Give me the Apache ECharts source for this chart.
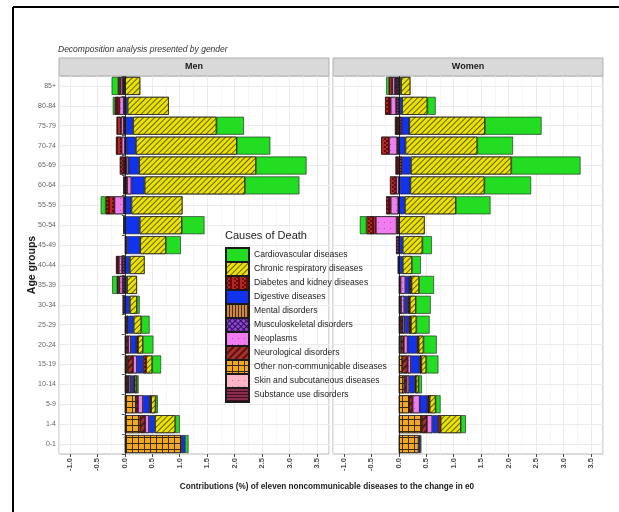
<!DOCTYPE html>
<html lang="en">
<head>
    <meta charset="UTF-8">
    <title>Decomposition analysis</title>
    <script src="https://cdn.jsdelivr.net/npm/echarts@6/dist/echarts.min.js"></script>
    <style>
        html, body { margin: 0; padding: 0; background: #fff; }
        #main { width: 619px; height: 512px; }
    </style>
</head>
<body>
<div id="main"></div>
<script>
// age groups, bottom to top
var ages = ['0-1', '1-4', '5-9', '10-14', '15-19', '20-24', '25-29', '30-34', '35-39', '40-44',
    '45-49', '50-54', '55-59', '60-64', '65-69', '70-74', '75-79', '80-84', '85+'];

var causes = ['Cardiovascular diseases', 'Chronic respiratory diseases', 'Diabetes and kidney diseases',
    'Digestive diseases', 'Mental disorders', 'Musculoskeletal disorders', 'Neoplasms',
    'Neurological disorders', 'Other non-communicable diseases', 'Skin and subcutaneous diseases',
    'Substance use disorders'];

// Men (values in same order as ages)
var menCardio    = [0.06, 0.08, 0.04, 0.03, 0.16, 0.19, 0.15, 0.05, -0.09, 0, 0.27, 0.41, -0.09, 0.99, 0.92, 0.61, 0.50, -0.04, -0.12];
var menChronic   = [0, 0.37, 0.08, 0.04, 0.11, 0.09, 0.14, 0.13, 0.18, 0.27, 0.47, 0.77, 0.93, 1.83, 2.13, 1.84, 1.52, 0.75, 0.28];
var menDiabetes  = [0, 0, 0.03, 0.02, 0.06, 0.03, 0, 0, -0.04, -0.05, 0, 0, -0.16, -0.03, -0.07, -0.10, -0.08, -0.08, -0.04];
var menDigestive = [0.07, 0.11, 0.12, 0.05, 0.11, 0.10, 0.10, 0.09, 0.04, 0.09, 0.24, 0.27, 0.12, 0.24, 0.19, 0.17, 0.13, 0.05, 0];
var menMental    = [0, 0, 0, 0, 0, 0, 0, 0, 0, 0, 0, 0, 0, 0, 0, 0, 0, 0, 0];
var menMusculo   = [0, 0, 0, 0, 0, 0, 0, 0, 0, 0, 0, 0, 0, 0, 0, 0, 0, 0, 0];
var menNeoplasms = [0, 0.07, 0.09, 0.04, 0.07, 0.05, 0, 0, -0.06, -0.06, 0, 0, -0.17, 0.08, 0.04, -0.06, -0.05, -0.08, -0.04];
var menNeuro     = [0, 0.09, 0.04, 0.03, 0.10, 0.04, 0.03, 0, 0, 0, 0, 0, 0, 0, -0.02, 0, -0.02, 0, -0.02];
var menOther     = [1.03, 0.28, 0.20, 0.04, 0.05, 0, 0, 0, 0, 0, 0, 0, 0, 0, 0, 0, 0, 0, 0];
var menSkin      = [0, 0, 0, 0, 0, 0, 0, 0, 0, 0, 0, 0, 0, 0, 0, 0, 0, 0, 0];
var menSubstance = [0, 0, 0, 0, 0, 0.02, 0.03, -0.04, -0.04, -0.05, 0.04, -0.03, -0.02, 0.04, 0.03, 0.03, 0.02, -0.02, -0.02];

// Women
var womenCardio    = [0.02, 0.09, 0.09, 0.06, 0.22, 0.24, 0.24, 0.27, 0.27, 0.16, 0.17, -0.12, 0.63, 0.85, 1.26, 0.65, 1.03, 0.15, -0.05];
var womenChronic   = [0, 0.37, 0.11, 0.05, 0.09, 0.09, 0.10, 0.11, 0.14, 0.17, 0.36, 0.47, 0.93, 1.35, 1.83, 1.31, 1.38, 0.46, 0.17];
var womenDiabetes  = [0, 0.05, 0.04, 0.02, 0.03, 0.03, 0.04, 0.04, 0.04, 0, 0, -0.17, -0.08, -0.11, -0.06, -0.14, -0.04, -0.10, -0.06];
var womenDigestive = [0.03, 0.10, 0.14, 0.10, 0.16, 0.17, 0.07, 0.06, 0.07, 0.07, 0.07, 0, 0.11, 0.19, 0.16, 0.12, 0.14, 0.06, 0.04];
var womenMental    = [0, 0, 0, 0, 0, 0, 0, 0, 0, 0, 0, 0, 0, 0, 0, 0, 0, 0, 0];
var womenMusculo   = [0, 0, 0, 0, 0, 0, 0, 0, 0, 0, 0, 0, 0, 0, 0, 0, 0, 0, 0];
var womenNeoplasms = [0, 0.10, 0.13, 0.05, 0.06, 0.07, 0.04, 0.06, 0.09, 0, 0, -0.38, -0.14, -0.05, 0, -0.15, 0, -0.10, -0.05];
var womenNeuro     = [0, 0.09, 0.06, 0.04, 0.10, 0.05, 0.04, 0, 0, 0, 0, 0, 0, 0, 0, 0, -0.03, 0, -0.03];
var womenOther     = [0.36, 0.42, 0.19, 0.10, 0.06, 0.04, 0, 0, 0, 0, 0, 0, 0, 0, 0, 0, 0, 0, 0];
var womenSkin      = [0, 0, 0, 0, 0, 0, 0, 0, 0, 0, 0, 0, 0, 0, 0, 0, 0, 0, 0];
var womenSubstance = [0, 0, 0, 0, 0, 0, 0.03, 0.04, 0.03, -0.02, -0.05, -0.04, -0.01, 0.02, 0.06, -0.03, 0.05, -0.05, -0.04];

var menValues = [menCardio, menChronic, menDiabetes, menDigestive, menMental, menMusculo,
    menNeoplasms, menNeuro, menOther, menSkin, menSubstance];
var womenValues = [womenCardio, womenChronic, womenDiabetes, womenDigestive, womenMental, womenMusculo,
    womenNeoplasms, womenNeuro, womenOther, womenSkin, womenSubstance];

// fill colour + pattern for each cause
var styles = [
    {color: '#22dd22', decal: null},
    {color: '#ece200', decal: {symbol: 'rect', symbolSize: 1, dashArrayX: [1, 0], dashArrayY: [1, 2.5], rotation: -Math.PI / 4, color: 'rgba(40,40,0,0.7)'}},
    {color: '#b8261e', decal: {symbol: 'rect', symbolSize: 1, dashArrayX: [[2, 2], [0, 2, 2]], dashArrayY: [2, 0], color: 'rgba(80,5,5,0.8)'}},
    {color: '#1133ee', decal: null},
    {color: '#cc8a40', decal: {symbol: 'rect', symbolSize: 1, dashArrayX: [1, 2], dashArrayY: [1, 0], color: 'rgba(50,25,5,0.85)'}},
    {color: '#8e44d6', decal: {symbol: 'rect', symbolSize: 1, dashArrayX: [[4, 0], [1, 3], [1, 3], [1, 3]], dashArrayY: [1, 0], rotation: Math.PI / 4, color: 'rgba(30,5,60,0.85)'}},
    {color: '#f07cf0', decal: {symbol: 'circle', symbolSize: 0.8, dashArrayX: [1, 5], dashArrayY: [1, 5], color: 'rgba(60,10,60,0.9)'}},
    {color: '#a8302a', decal: {symbol: 'rect', symbolSize: 1, dashArrayX: [1, 0], dashArrayY: [2, 3], rotation: -Math.PI / 4, color: 'rgba(70,10,8,0.8)'}},
    {color: '#f2a81e', decal: {symbol: 'rect', symbolSize: 1, dashArrayX: [[6, 0], [1, 5], [1, 5], [1, 5], [1, 5], [1, 5]], dashArrayY: [1, 0], color: 'rgba(40,25,0,0.9)'}},
    {color: '#ffb3c6', decal: {symbol: 'circle', symbolSize: 0.8, dashArrayX: [1, 5], dashArrayY: [1, 5], color: 'rgba(100,30,50,0.9)'}},
    {color: '#8c2e50', decal: {symbol: 'rect', symbolSize: 1, dashArrayX: [1, 0], dashArrayY: [1, 2], color: 'rgba(50,10,25,0.85)'}}
];

var FONT = '"Liberation Sans", Arial, sans-serif';
var gridTop = 76, gridH = 378;
var panels = [{left: 59, width: 270, label: 'Men', values: menValues},
              {left: 333, width: 270, label: 'Women', values: womenValues}];

var grids = [], xAxes = [], yAxes = [], series = [], graphics = [];

panels.forEach(function (p, g) {
    grids.push({left: p.left, top: gridTop, width: p.width, height: gridH, show: true,
        backgroundColor: '#fff', borderColor: '#b5b5b5', borderWidth: 1, containLabel: false});
    xAxes.push({
        type: 'value', gridIndex: g, min: -1.2, max: 3.72, splitNumber: 10,
        axisLine: {show: false},
        axisTick: {show: true, length: 3, lineStyle: {color: '#444'}},
        axisLabel: {rotate: 90, fontSize: 7.5, fontWeight: 'bold', color: '#4d4d4d', fontFamily: FONT, margin: 4,
            showMinLabel: false, showMaxLabel: false,
            formatter: function (v) { return v.toFixed(1); }},
        splitLine: {show: true, lineStyle: {color: '#ebebeb', width: 1}},
        minorTick: {show: false, splitNumber: 2},
        minorSplitLine: {show: true, lineStyle: {color: '#f4f4f4', width: 0.8}}
    });
    yAxes.push({
        type: 'category', gridIndex: g, data: ages,
        axisLine: {show: false},
        axisTick: {show: g === 0, length: 3, lineStyle: {color: '#555'}},
        axisLabel: {show: g === 0, fontSize: 7, color: '#666', fontFamily: FONT, margin: 3},
        splitLine: {show: false}
    });
    // stack: first series sits next to zero, so go from last cause to first
    for (var i = causes.length - 1; i >= 0; i--) {
        var st = {color: styles[i].color, borderColor: '#1a1a1a', borderWidth: 0.6};
        if (styles[i].decal) st.decal = styles[i].decal;
        series.push({
            name: causes[i], type: 'bar', stack: 'g' + g, xAxisIndex: g, yAxisIndex: g,
            barCategoryGap: '10%', itemStyle: st, emphasis: {disabled: true},
            data: p.values[i].map(function (v) { return v === 0 ? null : v; })
        });
    }
    // horizontal grid lines at category centres
    series.push({
        type: 'line', xAxisIndex: g, yAxisIndex: g, data: [], silent: true,
        markLine: {silent: true, symbol: 'none', z: 1, animation: false, label: {show: false},
            lineStyle: {color: '#ebebeb', width: 1, type: 'solid'},
            data: ages.map(function (a) { return {yAxis: a}; })}
    });
    // zero line
    series.push({
        type: 'line', xAxisIndex: g, yAxisIndex: g, data: [], silent: true,
        markLine: {silent: true, symbol: 'none', z: 6, animation: false, label: {show: false},
            lineStyle: {color: '#111', width: 0.8, type: 'solid'},
            data: [{xAxis: 0}]}
    });
    // facet strip
    graphics.push({type: 'rect', shape: {x: p.left, y: 58, width: p.width, height: 18},
        style: {fill: '#d9d9d9', stroke: '#b0b0b0', lineWidth: 1}});
    graphics.push({type: 'text', x: p.left + p.width / 2, y: 67,
        style: {text: p.label, fill: '#1a1a1a', font: 'bold 9px ' + FONT, align: 'center', verticalAlign: 'middle'}});
});

// outer frame
graphics.push({type: 'line', shape: {x1: 13, y1: 7, x2: 619, y2: 7}, style: {stroke: '#000', lineWidth: 2}});
graphics.push({type: 'line', shape: {x1: 13, y1: 7, x2: 13, y2: 512}, style: {stroke: '#000', lineWidth: 2}});
// axis titles
graphics.push({type: 'text', x: 327, y: 487,
    style: {text: 'Contributions (%) of eleven noncommunicable diseases to the change in e0',
        fill: '#1a1a1a', font: 'bold 8.2px ' + FONT, align: 'center', verticalAlign: 'middle'}});
graphics.push({type: 'text', x: 32, y: 265, rotation: Math.PI / 2,
    style: {text: 'Age groups', fill: '#1a1a1a', font: 'bold 10.5px ' + FONT, align: 'center', verticalAlign: 'middle'}});

var chart = echarts.init(document.getElementById('main'), null, {renderer: 'canvas'});
chart.setOption({
    animation: false,
    backgroundColor: '#fff',
    title: [
        {text: 'Decomposition analysis presented by gender', left: 58, top: 45, padding: 0,
            textStyle: {fontSize: 8.5, fontStyle: 'italic', fontWeight: 'normal', color: '#333', fontFamily: FONT}},
        {text: 'Causes of Death', left: 225, top: 230, padding: 0,
            textStyle: {fontSize: 11, fontWeight: 'normal', color: '#222', fontFamily: FONT}}
    ],
    legend: {
        data: causes, orient: 'vertical', left: 225, top: 247, padding: 0,
        itemWidth: 23, itemHeight: 14, itemGap: -2, icon: 'rect', selectedMode: false,
        textStyle: {fontSize: 8.6, lineHeight: 14, color: '#222', fontFamily: FONT}
    },
    grid: grids,
    xAxis: xAxes,
    yAxis: yAxes,
    series: series,
    graphic: graphics
});
</script>
</body>
</html>
